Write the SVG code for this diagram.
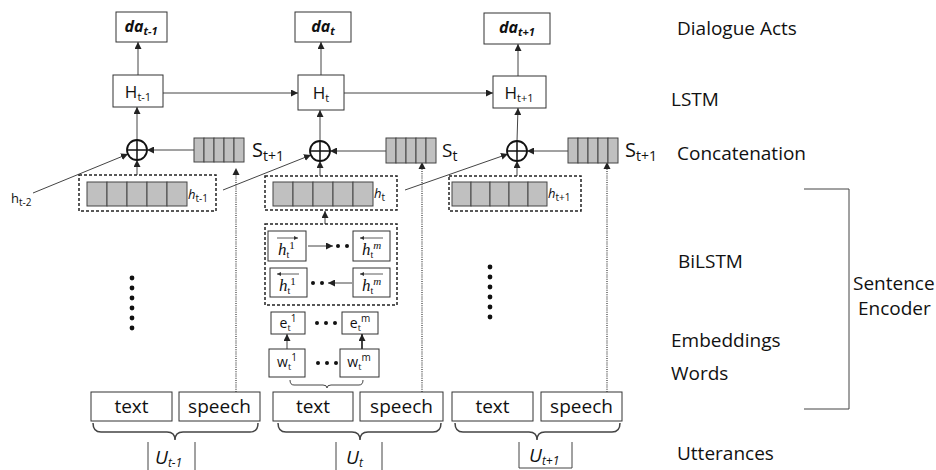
<svg xmlns="http://www.w3.org/2000/svg" width="936" height="470" viewBox="0 0 936 470">
<defs>
<marker id="ah" viewBox="0 0 10 10" refX="10" refY="5" markerWidth="7" markerHeight="7" markerUnits="userSpaceOnUse" orient="auto"><path d="M0,0 L10,5 L0,10 z" fill="#222"/></marker>
<marker id="ahs" viewBox="0 0 10 10" refX="10" refY="5" markerWidth="4" markerHeight="4" markerUnits="userSpaceOnUse" orient="auto"><path d="M0,0 L10,5 L0,10 z" fill="#333"/></marker>
</defs>
<style>
.box{fill:#fff;stroke:#333;stroke-width:1}
.cell{fill:#c0c0c0;stroke:#444;stroke-width:1}
.dash{fill:none;stroke:#222;stroke-width:1.5;stroke-dasharray:3,2}
.ln{fill:none;stroke:#444;stroke-width:1}
.arr{fill:none;stroke:#444;stroke-width:1;marker-end:url(#ah)}
.dot{fill:none;stroke:#333;stroke-width:1.2;stroke-dasharray:1,1.2}
.ov{fill:none;stroke:#333;stroke-width:0.8;marker-end:url(#ahs)}
.t{font-family:"Open Sans","Liberation Sans",sans-serif;fill:#111}
.s{font-family:"Liberation Serif","DejaVu Serif",serif;fill:#111;font-style:italic}
.lbl{font-size:19px}
.da{font-weight:bold;font-style:italic;font-size:16px}
.brace{fill:none;stroke:#444;stroke-width:1.5}
.bd{fill:#111}
</style>

<g id="connectors">
  <line class="arr" x1="138" y1="75" x2="138" y2="42"/>
  <line class="arr" x1="321" y1="75" x2="321" y2="42"/>
  <line class="arr" x1="518" y1="76" x2="518" y2="44"/>
  <line class="arr" x1="163" y1="93" x2="298" y2="93"/>
  <line class="arr" x1="344" y1="93" x2="493" y2="93"/>
  <line class="arr" x1="137" y1="140" x2="137" y2="107"/>
  <line class="arr" x1="320" y1="141" x2="320" y2="110"/>
  <line class="arr" x1="517" y1="141" x2="518" y2="108"/>
  <line class="arr" x1="137" y1="175" x2="137" y2="160"/>
  <line class="arr" x1="320" y1="176" x2="320" y2="161"/>
  <line class="arr" x1="517" y1="176" x2="517" y2="161"/>
  <line class="arr" x1="194" y1="150" x2="147" y2="150"/>
  <line class="arr" x1="386" y1="151" x2="330" y2="151"/>
  <line class="arr" x1="568" y1="151" x2="527" y2="151"/>
  <line class="arr" x1="33" y1="193" x2="128" y2="154"/>
  <line class="arr" x1="223" y1="190" x2="311" y2="155"/>
  <line class="arr" x1="405" y1="190" x2="508" y2="154"/>
  <line class="dot" x1="236" y1="392" x2="236" y2="172"/>
  <path d="M232.5,175 L236,168 L239.5,175 z" fill="#222"/>
  <line class="dot" x1="422" y1="392" x2="422" y2="167"/>
  <path d="M418.5,169 L422,162 L425.5,169 z" fill="#222"/>
  <line class="dot" x1="607" y1="392" x2="607" y2="167"/>
  <path d="M603.5,169 L607,162 L610.5,169 z" fill="#222"/>
  <line class="arr" x1="325" y1="224" x2="325" y2="211"/>
  <line class="arr" x1="308" y1="246" x2="333" y2="246"/>
  <line class="arr" x1="352" y1="283" x2="328" y2="283"/>
  <line class="arr" x1="287" y1="349" x2="287" y2="334"/>
  <line class="arr" x1="362" y1="349" x2="362" y2="334" style="stroke-width:2"/>
</g>

<g id="da_tm1">
  <rect class="box" x="116" y="12" width="51" height="30"/>
  <text class="t da" x="141" y="32" text-anchor="middle">da<tspan font-size="11" dy="3">t-1</tspan></text>
</g>
<g id="da_t">
  <rect class="box" x="295" y="12" width="56" height="30"/>
  <text class="t da" x="323" y="32" text-anchor="middle">da<tspan font-size="11" dy="3">t</tspan></text>
</g>
<g id="da_tp1">
  <rect class="box" x="484" y="13" width="66" height="31"/>
  <text class="t da" x="517" y="33" text-anchor="middle">da<tspan font-size="11" dy="3">t+1</tspan></text>
</g>

<g id="H_tm1">
  <rect class="box" x="113" y="75" width="50" height="32"/>
  <text class="t" font-size="17" x="138" y="98" text-anchor="middle">H<tspan font-size="11" dy="3">t-1</tspan></text>
</g>
<g id="H_t">
  <rect class="box" x="298" y="75" width="46" height="35"/>
  <text class="t" font-size="17" x="321" y="99" text-anchor="middle">H<tspan font-size="11" dy="3">t</tspan></text>
</g>
<g id="H_tp1">
  <rect class="box" x="493" y="76" width="53" height="32"/>
  <text class="t" font-size="17" x="519" y="99" text-anchor="middle">H<tspan font-size="11" dy="3">t+1</tspan></text>
</g>

<g id="concat_tm1">
  <circle cx="137" cy="150" r="10" fill="#fff" stroke="#111" stroke-width="1.8"/>
  <path d="M127,150 H147 M137,140 V160" stroke="#111" stroke-width="1.5"/>
</g>
<g id="concat_t">
  <circle cx="320" cy="151" r="10" fill="#fff" stroke="#111" stroke-width="1.8"/>
  <path d="M310,151 H330 M320,141 V161" stroke="#111" stroke-width="1.5"/>
</g>
<g id="concat_tp1">
  <circle cx="517" cy="151" r="10" fill="#fff" stroke="#111" stroke-width="1.8"/>
  <path d="M507,151 H527 M517,141 V161" stroke="#111" stroke-width="1.5"/>
</g>

<g id="S_left">
  <rect class="cell" x="194" y="138" width="10" height="24"/>
  <rect class="cell" x="204" y="138" width="10" height="24"/>
  <rect class="cell" x="214" y="138" width="10" height="24"/>
  <rect class="cell" x="224" y="138" width="10" height="24"/>
  <rect class="cell" x="234" y="138" width="10" height="24"/>
  <text class="t" font-size="20" x="252" y="157">S<tspan font-size="14" dy="4">t+1</tspan></text>
</g>
<g id="S_mid">
  <rect class="cell" x="386" y="138" width="10" height="25"/>
  <rect class="cell" x="396" y="138" width="10" height="25"/>
  <rect class="cell" x="406" y="138" width="10" height="25"/>
  <rect class="cell" x="416" y="138" width="10" height="25"/>
  <rect class="cell" x="426" y="138" width="10" height="25"/>
  <text class="t" font-size="19" x="442" y="157">S<tspan font-size="14" dy="4">t</tspan></text>
</g>
<g id="S_right">
  <rect class="cell" x="568" y="138" width="10" height="25"/>
  <rect class="cell" x="578" y="138" width="10" height="25"/>
  <rect class="cell" x="588" y="138" width="10" height="25"/>
  <rect class="cell" x="598" y="138" width="10" height="25"/>
  <rect class="cell" x="608" y="138" width="10" height="25"/>
  <text class="t" font-size="20" x="625" y="157">S<tspan font-size="14" dy="4">t+1</tspan></text>
</g>

<g id="h_tm2">
  <text class="t" font-size="13" x="11" y="203">h<tspan font-size="10" dy="3">t-2</tspan></text>
</g>

<g id="h_tm1">
  <rect class="dash" x="79" y="175" width="137" height="36"/>
  <rect class="cell" x="87" y="182" width="20" height="24"/>
  <rect class="cell" x="107" y="182" width="20" height="24"/>
  <rect class="cell" x="127" y="182" width="20" height="24"/>
  <rect class="cell" x="147" y="182" width="20" height="24"/>
  <rect class="cell" x="167" y="182" width="20" height="24"/>
  <text class="t" font-size="13" font-style="italic" x="188" y="199">h<tspan font-size="10" font-style="normal" dy="3">t-1</tspan></text>
</g>
<g id="h_t">
  <rect class="dash" x="265" y="176" width="132" height="34"/>
  <rect class="cell" x="273" y="182" width="20" height="24"/>
  <rect class="cell" x="293" y="182" width="20" height="24"/>
  <rect class="cell" x="313" y="182" width="20" height="24"/>
  <rect class="cell" x="333" y="182" width="20" height="24"/>
  <rect class="cell" x="353" y="182" width="20" height="24"/>
  <text class="t" font-size="13" font-style="italic" x="374" y="198">h<tspan font-size="10" font-style="normal" dy="3">t</tspan></text>
</g>
<g id="h_tp1">
  <rect class="dash" x="449" y="176" width="132" height="35"/>
  <rect class="cell" x="452" y="182" width="19" height="24"/>
  <rect class="cell" x="471" y="182" width="19" height="24"/>
  <rect class="cell" x="490" y="182" width="19" height="24"/>
  <rect class="cell" x="509" y="182" width="19" height="24"/>
  <rect class="cell" x="528" y="182" width="19" height="24"/>
  <text class="t" font-size="13" font-style="italic" x="548" y="198">h<tspan font-size="10" font-style="normal" dy="3">t+1</tspan></text>
</g>

<g id="dots_left">
  <circle class="bd" cx="132" cy="278" r="2.4"/>
  <circle class="bd" cx="132" cy="288" r="2.4"/>
  <circle class="bd" cx="132" cy="298" r="2.4"/>
  <circle class="bd" cx="132" cy="308" r="2.4"/>
  <circle class="bd" cx="132" cy="318" r="2.4"/>
  <circle class="bd" cx="132" cy="328" r="2.4"/>
</g>
<g id="dots_right">
  <circle class="bd" cx="490" cy="267" r="2.4"/>
  <circle class="bd" cx="490" cy="277" r="2.4"/>
  <circle class="bd" cx="490" cy="287" r="2.4"/>
  <circle class="bd" cx="490" cy="297" r="2.4"/>
  <circle class="bd" cx="490" cy="307" r="2.4"/>
  <circle class="bd" cx="490" cy="317" r="2.4"/>
</g>

<g id="bilstm">
  <rect class="dash" x="265" y="224" width="132" height="81"/>
  <rect class="box" x="268" y="231" width="38" height="30"/>
  <line class="ov" x1="277" y1="238" x2="298" y2="238"/>
  <text class="s" font-size="17" x="278" y="255">h<tspan font-size="10" font-style="normal" dy="3">t</tspan><tspan font-size="11" font-style="normal" dy="-9">1</tspan></text>
  <circle class="bd" cx="338" cy="246" r="2"/>
  <circle class="bd" cx="347" cy="246" r="2"/>
  <rect class="box" x="353" y="231" width="37" height="30"/>
  <line class="ov" x1="383" y1="238" x2="360" y2="238"/>
  <text class="s" font-size="17" x="362" y="255">h<tspan font-size="10" font-style="normal" dy="3">t</tspan><tspan font-size="11" dy="-9">m</tspan></text>
  <rect class="box" x="270" y="268" width="37" height="29"/>
  <line class="ov" x1="299" y1="274" x2="277" y2="274"/>
  <text class="s" font-size="17" x="279" y="291">h<tspan font-size="10" font-style="normal" dy="3">t</tspan><tspan font-size="11" font-style="normal" dy="-9">1</tspan></text>
  <circle class="bd" cx="313" cy="283" r="2"/>
  <circle class="bd" cx="322" cy="283" r="2"/>
  <rect class="box" x="353" y="268" width="37" height="29"/>
  <line class="ov" x1="383" y1="274" x2="360" y2="274"/>
  <text class="s" font-size="17" x="362" y="291">h<tspan font-size="10" font-style="normal" dy="3">t</tspan><tspan font-size="11" dy="-9">m</tspan></text>
</g>

<g id="embeddings">
  <rect class="box" x="271" y="312" width="34" height="22"/>
  <text class="t" font-size="14" x="288" y="328" text-anchor="middle">e<tspan font-size="9" dy="3">t</tspan><tspan font-size="10" dy="-9">1</tspan></text>
  <circle class="bd" cx="317" cy="323" r="2"/>
  <circle class="bd" cx="326" cy="323" r="2"/>
  <circle class="bd" cx="335" cy="323" r="2"/>
  <rect class="box" x="342" y="312" width="36" height="22"/>
  <text class="t" font-size="14" x="360" y="328" text-anchor="middle">e<tspan font-size="9" dy="3">t</tspan><tspan font-size="10" dy="-9">m</tspan></text>
</g>
<g id="words">
  <rect class="box" x="269" y="349" width="36" height="28"/>
  <text class="t" font-size="14" x="287" y="367" text-anchor="middle">w<tspan font-size="9" dy="3">t</tspan><tspan font-size="10" dy="-9">1</tspan></text>
  <circle class="bd" cx="318" cy="363" r="2"/>
  <circle class="bd" cx="327" cy="363" r="2"/>
  <circle class="bd" cx="336" cy="363" r="2"/>
  <rect class="box" x="340" y="349" width="39" height="28"/>
  <text class="t" font-size="14" x="359" y="367" text-anchor="middle">w<tspan font-size="9" dy="3">t</tspan><tspan font-size="10" dy="-9">m</tspan></text>
  <path class="brace" style="stroke-width:1" d="M290,380 Q290,385 294,385 L323,385 Q327,385 327,388 Q327,385 331,385 L359,385 Q363,385 363,380"/>
</g>

<g id="utt_tm1">
  <rect class="box" x="91" y="392" width="81" height="29"/>
  <text class="t" font-size="19" x="131.5" y="413" text-anchor="middle">text</text>
  <rect class="box" x="179" y="392" width="81" height="29"/>
  <text class="t" font-size="19" x="219.5" y="413" text-anchor="middle">speech</text>
  <path class="brace" d="M93,423 Q93,432 101,432 L167,432 Q175,432 175,440 Q175,432 183,432 L250,432 Q258,432 258,423"/>
  <path class="ln" d="M148,442 V470 M195,442 V470"/>
  <text class="t" font-size="19" font-style="italic" x="155" y="464">U<tspan font-size="12" dy="3">t-1</tspan></text>
</g>
<g id="utt_t">
  <rect class="box" x="273" y="392" width="80" height="29"/>
  <text class="t" font-size="19" x="313" y="413" text-anchor="middle">text</text>
  <rect class="box" x="360" y="392" width="83" height="29"/>
  <text class="t" font-size="19" x="401.5" y="413" text-anchor="middle">speech</text>
  <path class="brace" d="M278,423 Q278,432 286,432 L352,432 Q360,432 360,440 Q360,432 368,432 L433,432 Q441,432 441,423"/>
  <path class="ln" d="M336,442 V470 M382,442 V470"/>
  <text class="t" font-size="19" font-style="italic" x="346" y="464">U<tspan font-size="12" dy="3">t</tspan></text>
</g>
<g id="utt_tp1">
  <rect class="box" x="452" y="392" width="81" height="29"/>
  <text class="t" font-size="19" x="492.5" y="413" text-anchor="middle">text</text>
  <rect class="box" x="541" y="392" width="81" height="29"/>
  <text class="t" font-size="19" x="581.5" y="413" text-anchor="middle">speech</text>
  <path class="brace" d="M455,423 Q455,432 463,432 L529,432 Q537,432 537,440 Q537,432 545,432 L612,432 Q620,432 620,423"/>
  <path class="ln" d="M519,442 V468 H572 V442"/>
  <text class="t" font-size="19" font-style="italic" x="529" y="462">U<tspan font-size="12" dy="3">t+1</tspan></text>
</g>

<g id="layer_labels">
  <text class="t lbl" x="677" y="35">Dialogue Acts</text>
  <text class="t lbl" x="671" y="106">LSTM</text>
  <text class="t lbl" x="677" y="160">Concatenation</text>
  <text class="t lbl" x="678" y="268">BiLSTM</text>
  <text class="t lbl" x="671" y="347">Embeddings</text>
  <text class="t lbl" x="671" y="380">Words</text>
  <text class="t lbl" x="677" y="460">Utterances</text>
</g>
<g id="sentence_encoder">
  <path class="ln" d="M804,189 H849 V409 H804"/>
  <text class="t lbl" x="853" y="290">Sentence</text>
  <text class="t lbl" x="858" y="315">Encoder</text>
</g>
</svg>
